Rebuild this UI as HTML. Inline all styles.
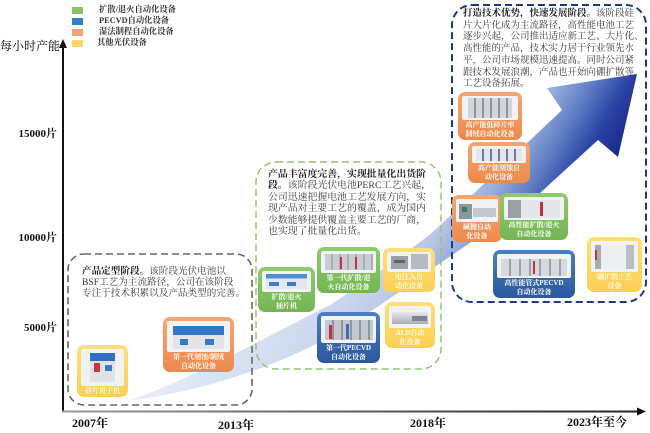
<!DOCTYPE html>
<html><head><meta charset="utf-8">
<style>
html,body{margin:0;padding:0;background:#fff;}
body{width:650px;height:429px;position:relative;overflow:hidden;font-family:"Liberation Serif","Noto Serif CJK SC",serif;}
svg.bg{position:absolute;left:0;top:0;}
.t{position:absolute;white-space:nowrap;color:#3a3a3a;}
.t b{color:#1e1e1e;}
.ax{position:absolute;white-space:nowrap;font-weight:bold;color:#111;font-size:11px;}
.lg{position:absolute;left:72px;width:11px;height:7px;}
.lgt{position:absolute;left:99px;font-size:8.3px;font-weight:bold;color:#333;white-space:nowrap;line-height:10px;}
.card{position:absolute;border-radius:7px;padding:4px 4px 2px;box-sizing:border-box;display:flex;flex-direction:column;}
.g{background:linear-gradient(#8fcb6c,#74b552);}
.b{background:linear-gradient(#4a7fc4,#2b589c);}
.o{background:linear-gradient(#f6a674,#ec8a4c);}
.y{background:linear-gradient(#fedf7a,#fbcf55);}
.img{flex:1;background:#f1f2f4;border-radius:2px;position:relative;overflow:hidden;}
.img i{position:absolute;display:block;}
.lbl{color:#fff;font-weight:bold;font-size:7px;line-height:8.5px;text-align:center;white-space:nowrap;padding-top:1px;}
.y .lbl{color:#fffbe8;}
</style></head>
<body>
<svg class="bg" width="650" height="429" viewBox="0 0 650 429">
<defs>
<linearGradient id="ag" gradientUnits="userSpaceOnUse" x1="127" y1="401" x2="381" y2="553">
<stop offset="0" stop-color="#e9eff8"/>
<stop offset="0.43" stop-color="#ccd8ee"/>
<stop offset="0.6" stop-color="#bac8e8"/>
<stop offset="0.7" stop-color="#95aadb"/>
<stop offset="0.8" stop-color="#5f7cc4"/>
<stop offset="0.9" stop-color="#2b43a3"/>
<stop offset="1" stop-color="#18288a"/>
</linearGradient>
<linearGradient id="xg" gradientUnits="userSpaceOnUse" x1="62" y1="0" x2="640" y2="0">
<stop offset="0" stop-color="#999"/>
<stop offset="1" stop-color="#222"/>
</linearGradient>
</defs>
<!-- big arrow -->
<path d="M127,401 C190,380 250,345 330,305 C380,272 410,250 433,232 L562,110 L547,88 L637,74 L618,157 L598,140 L540,193 C500,222 460,250 433,268 C400,292 360,320 320,342 C270,368 200,392 127,401 Z" fill="url(#ag)"/>
<!-- axes -->
<line x1="63" y1="47" x2="63" y2="412" stroke="#111" stroke-width="2"/>
<polygon points="63,39 59,48 67,48" fill="#111"/>
<line x1="62" y1="411.5" x2="638" y2="411.5" stroke="url(#xg)" stroke-width="2"/>
<polygon points="646,411.5 637,407.5 637,415.5" fill="#111"/>
<!-- dashed boxes -->
<rect x="68" y="254" width="184" height="151" rx="16" fill="none" stroke="#666" stroke-width="1.6" stroke-dasharray="7 4"/>
<rect x="256" y="162" width="185" height="207" rx="20" fill="none" stroke="#93c66f" stroke-width="1.5" stroke-dasharray="7 4"/>
<rect x="452" y="5" width="194" height="297" rx="20" fill="none" stroke="#1e3787" stroke-width="2" stroke-dasharray="7 4"/>
</svg>

<!-- legend -->
<div class="lg" style="top:7px;background:#8cc167"></div>
<div class="lg" style="top:18px;background:#2f7fcf"></div>
<div class="lg" style="top:29px;background:#f2a27a"></div>
<div class="lg" style="top:40px;background:#fcd768"></div>
<div class="lgt" style="top:5px">扩散/退火自动化设备</div>
<div class="lgt" style="top:16px">PECVD自动化设备</div>
<div class="lgt" style="top:27px">湿法制程自动化设备</div>
<div class="lgt" style="top:38px;left:97px">其他光伏设备</div>

<!-- axis labels -->
<div class="ax" style="left:0;top:37px;font-size:12px;font-weight:normal;color:#000">每小时产能</div>
<div class="ax" style="left:0;width:57px;text-align:right;top:125px">15000片</div>
<div class="ax" style="left:0;width:57px;text-align:right;top:229px">10000片</div>
<div class="ax" style="left:0;width:57px;text-align:right;top:319px">5000片</div>
<div class="ax" style="left:72px;top:414px;font-size:12px">2007年</div>
<div class="ax" style="left:218px;top:416px;font-size:12px">2013年</div>
<div class="ax" style="left:410px;top:414px;font-size:12px">2018年</div>
<div class="ax" style="left:567px;top:413px;font-size:12px">2023年至今</div>

<!-- box texts -->
<div class="t" style="left:82px;top:266px;font-size:9.6px;line-height:11px">
<div><b>产品定型阶段。</b>该阶段光伏电池以</div>
<div>BSF工艺为主流路径，公司在该阶段</div>
<div>专注于技术积累以及产品类型的完善。</div>
</div>
<div class="t" style="left:268px;top:169px;font-size:9.9px;line-height:11.4px">
<div><b>产品丰富度完善，实现批量化出货阶</b></div>
<div><b>段。</b>该阶段光伏电池PERC工艺兴起，</div>
<div>公司迅速把握电池工艺发展方向，实</div>
<div>现产品对主要工艺的覆盖，成为国内</div>
<div>少数能够提供覆盖主要工艺的厂商，</div>
<div>也实现了批量化出货。</div>
</div>
<div class="t" style="left:463px;top:9px;font-size:9.5px;line-height:11.7px">
<div><b>打造技术优势，快速发展阶段。</b>该阶段硅</div>
<div>片大片化成为主流路径，高性能电池工艺</div>
<div>逐步兴起，公司推出适应新工艺、大片化、</div>
<div>高性能的产品，技术实力居于行业领先水</div>
<div>平，公司市场规模迅速提高。同时公司紧</div>
<div>跟技术发展浪潮，产品也开始向硼扩散等</div>
<div>工艺设备拓展。</div>
</div>

<!-- cards -->
<div class="card y" style="left:77px;top:345px;width:51px;height:52px">
<div class="img"><i style="left:22%;top:12%;width:58%;height:78%;background:linear-gradient(#2f6fc0 0 28%,#dfe3e8 28%)"></i><i style="left:30%;top:38%;width:14%;height:24%;background:#c8343a"></i><i style="left:55%;top:45%;width:18%;height:14%;background:#3d79c6"></i></div>
<div class="lbl">硅片甩干机</div>
</div>
<div class="card o" style="left:163px;top:317px;width:71px;height:55px">
<div class="img"><i style="left:10%;top:15%;width:80%;height:75%;background:linear-gradient(#3477c8 0 40%,#e1e4e8 40%)"></i><i style="left:20%;top:58%;width:14%;height:18%;background:#3a78c5"></i><i style="left:60%;top:58%;width:14%;height:18%;background:#3a78c5"></i></div>
<div class="lbl">第一代刻蚀/制绒<br>自动化设备</div>
</div>
<div class="card g" style="left:258px;top:267px;width:57px;height:45px">
<div class="img"><i style="left:8%;top:15%;width:84%;height:70%;background:linear-gradient(#4f8fd6 0 30%,#e4e7eb 30%)"></i><i style="left:15%;top:50%;width:20%;height:20%;background:#3d7cc8"></i><i style="left:50%;top:50%;width:20%;height:20%;background:#3d7cc8"></i></div>
<div class="lbl">扩散/退火<br>插片机</div>
</div>
<div class="card g" style="left:317px;top:247px;width:63px;height:46px">
<div class="img"><i style="left:8%;top:15%;width:86%;height:72%;background:repeating-linear-gradient(90deg,#c9ccd2 0 6px,#a9aeb6 6px 8px)"></i><i style="left:35%;top:25%;width:4%;height:55%;background:#c0334a"></i><i style="left:62%;top:25%;width:4%;height:55%;background:#c0334a"></i></div>
<div class="lbl">第一代扩散/退<br>火自动化设备</div>
</div>
<div class="card y" style="left:383px;top:248px;width:52px;height:44px">
<div class="img"><i style="left:8%;top:20%;width:40%;height:65%;background:#9aa0a8"></i><i style="left:55%;top:10%;width:38%;height:75%;background:#b6bbc2"></i><i style="left:15%;top:40%;width:25%;height:15%;background:#5b6470"></i></div>
<div class="lbl">电注入自<br>动化设备</div>
</div>
<div class="card b" style="left:317px;top:312px;width:63px;height:51px">
<div class="img"><i style="left:8%;top:15%;width:86%;height:75%;background:repeating-linear-gradient(90deg,#c4c8ce 0 7px,#8f96a0 7px 9px)"></i><i style="left:14%;top:35%;width:6%;height:50%;background:#c0334a"></i><i style="left:45%;top:30%;width:6%;height:55%;background:#3a6fb8"></i></div>
<div class="lbl">第一代PECVD<br>自动化设备</div>
</div>
<div class="card y" style="left:385px;top:302px;width:50px;height:46px">
<div class="img"><i style="left:6%;top:25%;width:88%;height:55%;background:linear-gradient(#e6e8eb,#a9aeb5)"></i><i style="left:55%;top:45%;width:35%;height:25%;background:#7d848e"></i></div>
<div class="lbl">ALD自动<br>化设备</div>
</div>
<div class="card o" style="left:458px;top:92px;width:64px;height:48px">
<div class="img"><i style="left:10%;top:10%;width:80%;height:80%;background:repeating-linear-gradient(90deg,#d2d5da 0 6px,#8e949c 6px 8px)"></i></div>
<div class="lbl">高产能低碎片率<br>制绒自动化设备</div>
</div>
<div class="card o" style="left:468px;top:142px;width:62px;height:41px">
<div class="img"><i style="left:8%;top:15%;width:84%;height:75%;background:repeating-linear-gradient(90deg,#e3e5e8 0 6px,#6f7ba6 6px 8px)"></i></div>
<div class="lbl">高产能刻蚀自<br>动化设备</div>
</div>
<div class="card o" style="left:452px;top:195px;width:50px;height:47px">
<div class="img"><i style="left:8%;top:20%;width:30%;height:65%;background:#8c949c"></i><i style="left:40%;top:40%;width:55%;height:40%;background:#c3c8ce"></i><i style="left:15%;top:35%;width:12%;height:20%;background:#3e7b5a"></i></div>
<div class="lbl">碱抛自动<br>化设备</div>
</div>
<div class="card g" style="left:500px;top:193px;width:68px;height:47px">
<div class="img"><i style="left:6%;top:15%;width:88%;height:75%;background:linear-gradient(90deg,#9aa0a8 0 25%,#e4e6ea 25%)"></i><i style="left:60%;top:22%;width:5%;height:60%;background:#c7303a"></i></div>
<div class="lbl">高性能扩散/退火<br>自动化设备</div>
</div>
<div class="card b" style="left:493px;top:250px;width:82px;height:48px">
<div class="img"><i style="left:5%;top:20%;width:90%;height:70%;background:repeating-linear-gradient(90deg,#d6d9de 0 8px,#9ca2aa 8px 10px)"></i><i style="left:48%;top:28%;width:4%;height:55%;background:#c7303a"></i></div>
<div class="lbl">高性能管式PECVD<br>自动化设备</div>
</div>
<div class="card y" style="left:587px;top:237px;width:55px;height:55px">
<div class="img"><i style="left:8%;top:12%;width:84%;height:78%;background:linear-gradient(90deg,#a6acb4 0 15%,#eceef0 15% 80%,#b9bec5 80%)"></i><i style="left:9%;top:30%;width:4%;height:30%;background:#c7303a"></i></div>
<div class="lbl">硼扩散工艺<br>设备</div>
</div>
</body></html>
